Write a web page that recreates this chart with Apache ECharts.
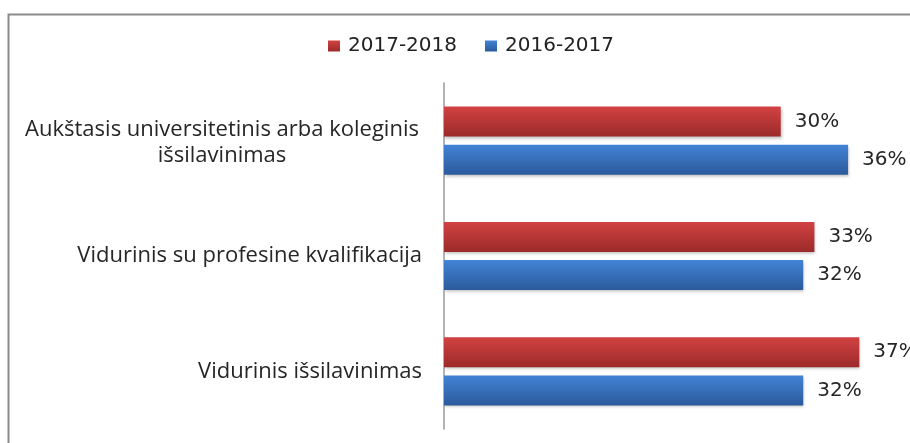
<!DOCTYPE html>
<html>
<head>
    <meta charset="UTF-8" />
    <title>išsilavinimas</title>
    <script src="https://cdn.jsdelivr.net/npm/echarts@6/dist/echarts.min.js"></script>
    <style>
        html, body { margin: 0; padding: 0; background: #fff; }
        #A { width: 910px; height: 443px; }
    </style>
</head>
<body>
    <div id="A"></div>
    <script>
        // duomenys
        var categories = ['Aukštasis universitetinis arba koleginis\nišsilavinimas', 'Vidurinis su profesine kvalifikacija', 'Vidurinis išsilavinimas'];
        var seriesNames = ['2017-2018', '2016-2017'];
        var values2017 = [30, 33, 37];
        var values2016 = [36, 32, 32];

        var myChart = echarts.init(document.getElementById('A'));

        function grad(top, bottom) {
            return new echarts.graphic.LinearGradient(0, 0, 0, 1, [
                { offset: 0, color: top },
                { offset: 1, color: bottom }
            ]);
        }
        var red = grad('#d24242', '#9c2a2a');
        var blue = grad('#4283d6', '#2b5a9c');

        var labelStyle = {
            show: true,
            position: 'right',
            distance: 14,
            formatter: '{c}%',
            fontFamily: 'DejaVu Sans',
            fontSize: 20,
            color: '#262626'
        };

        option = {
            animation: false,
            textStyle: { fontFamily: 'Open Sans' },
            graphic: [
                {
                    type: 'rect',
                    left: 6, top: 12,
                    shape: { width: 920, height: 450 },
                    style: { fill: 'none', stroke: '#8a8a8a', lineWidth: 2 },
                    silent: true
                }
            ],
            legend: {
                top: 31,
                left: 323,
                icon: 'rect',
                itemWidth: 12,
                itemHeight: 11,
                itemGap: 28,
                data: seriesNames,
                textStyle: { fontFamily: 'DejaVu Sans', fontSize: 20, color: '#222', padding: [0, 0, 0, 3] }
            },
            grid: { left: 444, right: 17, top: 83, bottom: 14, containLabel: false },
            xAxis: {
                type: 'value',
                min: 0,
                max: 40,
                show: false,
                splitLine: { show: false }
            },
            yAxis: {
                type: 'category',
                inverse: true,
                data: categories,
                axisTick: { show: false },
                axisLine: { show: true, lineStyle: { color: '#9a9a9a', width: 1.5 } },
                axisLabel: {
                    margin: 22,
                    fontFamily: 'Open Sans',
                    fontSize: 22,
                    color: '#262626',
                    formatter: function (v) {
                        if (v.indexOf('\n') >= 0) {
                            return v.split('\n').map(function (s) { return '{c|' + s + '}'; }).join('\n');
                        }
                        return v;
                    },
                    rich: {
                        c: { width: 400, align: 'center', fontFamily: 'Open Sans', fontSize: 22, color: '#262626', lineHeight: 26, padding: [4, 0, 0, 0] }
                    }
                }
            },
            series: [
                {
                    name: seriesNames[0],
                    type: 'bar',
                    data: values2017,
                    barWidth: 30,
                    barGap: '27%',
                    itemStyle: { color: red, shadowColor: 'rgba(0,0,0,0.25)', shadowBlur: 3, shadowOffsetX: 1, shadowOffsetY: 2 },
                    label: labelStyle
                },
                {
                    name: seriesNames[1],
                    type: 'bar',
                    data: values2016,
                    barWidth: 30,
                    itemStyle: { color: blue, shadowColor: 'rgba(0,0,0,0.25)', shadowBlur: 3, shadowOffsetX: 1, shadowOffsetY: 2 },
                    label: labelStyle
                }
            ]
        };

        myChart.setOption(option);
    </script>
</body>
</html>
